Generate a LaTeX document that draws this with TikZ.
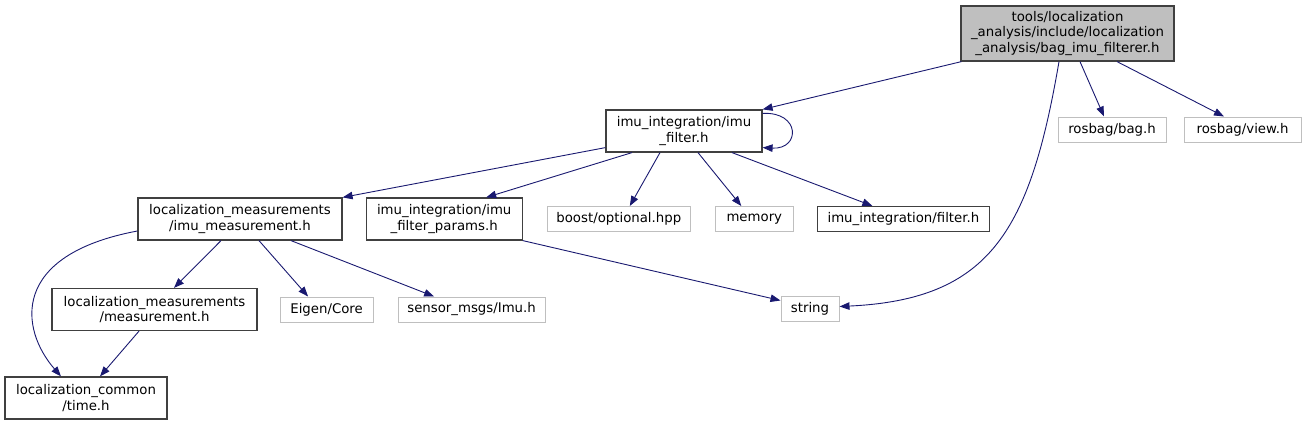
\documentclass[tikz,border=0pt]{standalone}
\usepackage{fontspec}
\setmainfont{DejaVu Sans}
\definecolor{EdgeNavy}{HTML}{191970}
\definecolor{RootGray}{HTML}{BFBFBF}
\definecolor{DarkBorder}{HTML}{404040}
\definecolor{LightBorder}{HTML}{BFBFBF}
\usetikzlibrary{arrows.meta, positioning}
\tikzset{
  filebox/.style={draw=DarkBorder, line width=1.2pt, fill=white, align=center, inner sep=0pt, minimum height=25pt, font=\fontsize{13.3}{15.5}\selectfont},
  sysbox/.style={filebox, draw=LightBorder, line width=1pt},
  rootbox/.style={filebox, fill=RootGray},
  dep/.style={-{Triangle[length=10pt, width=7.5pt]}, line width=0.9pt, draw=EdgeNavy}
}

\begin{document}
\begin{tikzpicture}[
  x=1pt, y=-1pt,
  twoline/.style={minimum height=42pt}
]
\useasboundingbox (0,0) rectangle (1307,424);
\node[rootbox, minimum width=213pt, minimum height=55pt] (root) at (1067.5,33.5) {tools/localization\\\_analysis/include/localization\\\_analysis/bag\_imu\_filterer.h};
\node[filebox, twoline, minimum width=156pt] (filt) at (684,131) {imu\_integration/imu\\\_filter.h};
\node[sysbox, minimum width=108pt] (bag) at (1112,129.5) {rosbag/bag.h};
\node[sysbox, minimum width=117pt, right=17pt of bag] (view) {rosbag/view.h};
\node[filebox, twoline, minimum width=204pt] (imumeas) at (240,219) {localization\_measurements\\/imu\_measurement.h};
\node[filebox, twoline, minimum width=156pt, right=23pt of imumeas] (params) {imu\_integration/imu\\\_filter\_params.h};
\node[sysbox, minimum width=143pt, right=24pt of params] (boost) {boost/optional.hpp};
\node[sysbox, minimum width=78pt, right=24pt of boost] (memory) {memory};
\node[filebox, minimum width=172pt, right=23pt of memory] (filterh) {imu\_integration/filter.h};
\node[filebox, twoline, minimum width=205pt] (meas) at (154.5,309.5) {localization\_measurements\\/measurement.h};
\node[sysbox, minimum width=93pt, right=22pt of meas] (eigen) {Eigen/Core};
\node[sysbox, minimum width=147pt, right=24pt of eigen] (sensor) {sensor\_msgs/Imu.h};
\node[sysbox, minimum width=58pt] (string) at (810,308.5) {string};
\node[filebox, twoline, minimum width=162pt] (time) at (86,398) {localization\_common\\/time.h};
\draw[dep] ([xshift=1pt]root.south west) -- (filt.north east);
\draw[dep] ([xshift=12.5pt]root.south) -- ([xshift=-8pt]bag.north);
\draw[dep] ([xshift=49.5pt]root.south) -- ([xshift=-18.5pt]view.north);
\draw[dep] ([xshift=-8.5pt]root.south) .. controls +(-29,169) and +(151,-7) .. ([yshift=2pt]string.east);
\draw[dep] ([yshift=-4pt]filt.north east) .. controls +(38,-2) and +(38,2) .. ([yshift=5pt]filt.south east);
\draw[dep] ([yshift=5pt]filt.south west) -- (imumeas.north east);
\draw[dep] ([xshift=-52pt]filt.south) -- ([xshift=42pt]params.north);
\draw[dep] ([xshift=-24pt]filt.south) -- ([xshift=11pt]boost.north);
\draw[dep] ([xshift=14pt]filt.south) -- ([xshift=-13pt]memory.north);
\draw[dep] ([xshift=48pt]filt.south) -- ([xshift=-31pt]filterh.north);
\draw[dep] ([yshift=-12pt]imumeas.west) .. controls +(-128,24) and +(-41,-47) .. ([xshift=-25pt]time.north);
\draw[dep] ([xshift=-19pt]imumeas.south) -- ([xshift=19.5pt]meas.north);
\draw[dep] ([xshift=19pt]imumeas.south) -- ([xshift=-18.5pt]eigen.north);
\draw[dep] ([xshift=51pt]imumeas.south) -- ([xshift=-37.5pt]sensor.north);
\draw[dep] (params.south east) -- ([yshift=8pt]string.west);
\draw[dep] ([xshift=-15.5pt]meas.south) -- ([xshift=14pt]time.north);
\end{tikzpicture}
\end{document}
